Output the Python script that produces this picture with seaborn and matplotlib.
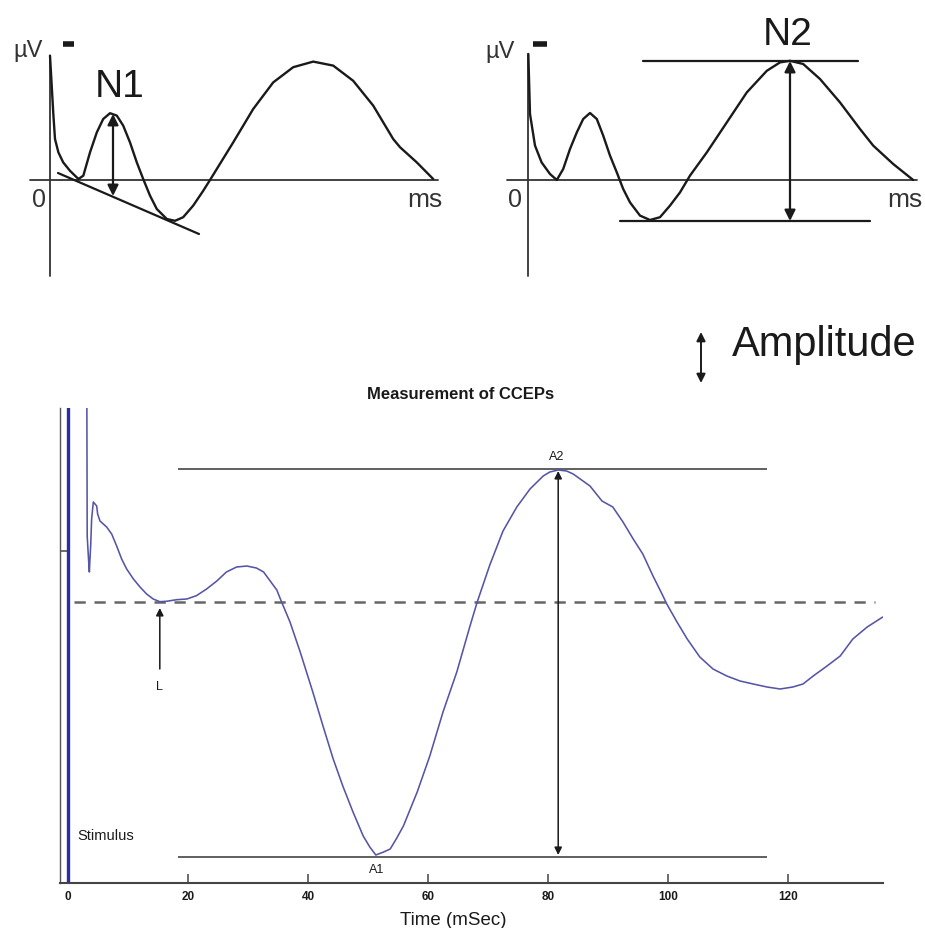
import matplotlib
matplotlib.use("Agg")
import matplotlib.pyplot as plt
import pandas as pd
import seaborn as sns

sns.set_theme(style="white")
plt.rcParams["font.family"] = ["Liberation Sans", "DejaVu Sans"]

# ---- Schematic N1 (top left), arbitrary ms / uV units ----
N1_T = [0, 0.83, 1.25, 2.1, 3.3, 5, 7.1, 8.33, 10, 11.7, 13.3, 15, 16.7, 18.3, 20,
        21.7, 23.3, 25, 26.7, 29.2, 31.25, 33.3, 35.8, 38.3, 40, 45.8, 50.8, 55.8,
        60.8, 65.8, 70.8, 75.8, 80.8, 85.8, 87.5, 91.7, 95.8]
N1_V = [31.1, 16.5, 10.25, 6.9, 4.4, 2.3, 0.25, 1.08, 6.9, 11.9, 15.25, 16.7, 16.1, 13.6, 9.4,
        4.4, 0.25, -3.9, -7.25, -9.75, -10.2, -9.3, -6.4, -2.7, 0, 9.4, 17.75, 24.4,
        28.2, 29.6, 28.6, 24.8, 18.6, 10.25, 8.2, 4.4, 0.25]
N1_TANGENT_T = [2, 37.25]
N1_TANGENT_V = [1.75, -13.5]
N1_ARROW_T = 15.75
N1_ARROW_V = [16.5, -4.0]

# ---- Schematic N2 (top right) ----
N2_T = [0.08, 0.5, 1.75, 3.4, 5.5, 7.2, 8.8, 10.5, 12.2, 13.8, 15.5, 17.2, 18.8, 20.5,
        22.2, 23.8, 25.5, 28, 30.5, 33, 35.5, 38, 40.5, 44.7, 49.7, 54.7, 59.7, 63,
        65.5, 68.8, 73, 78, 83, 86.3, 91.3, 96.3]
N2_V = [31.5, 16.5, 8.6, 4.4, 1.5, 0, 2.75, 7.75, 11.9, 15.25, 16.75, 15.25, 11.1, 6.1,
        1.9, -2.25, -5.6, -8.9, -10, -9.3, -6.4, -3.1, 1.1, 6.9, 14.4, 21.9, 27.3, 29.4,
        29.8, 29, 25.25, 19.4, 12.75, 8.6, 4, 0]
N2_PEAK_V = 29.75
N2_TROUGH_V = -10.25
N2_ARROW_T = 65.5

# ---- Measurement of CCEPs (bottom) ----
CCEP_MS = [3.1, 3.2, 3.4, 3.56, 3.65, 3.78, 3.94, 4.22, 4.78, 4.94, 5.33, 6.44, 7.28,
           8.11, 8.94, 9.78, 10.9, 12.0, 13.1, 14.2, 15.3, 16.4, 18.1, 19.8, 21.4,
           23.1, 24.8, 26.4, 28.1, 29.8, 31.4, 32.6, 33.7, 34.8, 35.6, 37.0, 38.7,
           40.8, 42.5, 44.2, 45.8, 47.5, 49.2, 50.3, 51.3, 52.6, 53.7, 54.8, 55.9,
           58.2, 60.3, 62.5, 64.8, 67.0, 68.2, 70.3, 72.5, 74.8, 77.0, 79.2, 80.3,
           81.7, 83.1, 84.2, 87.0, 89.0, 90.8, 92.5, 94.2, 95.8, 97.5, 99.0, 99.8,
           101.5, 103.2, 105.3, 107.5, 109.8, 112.0, 114.2, 116.5, 118.7, 120.8,
           122.5, 124.2, 126.5, 128.7, 130.8, 133.2, 135.8]
CCEP_UV = [30, 6.6, 4.5, 3.0, 4.2, 5.6, 8.3, 10.0, 9.6, 8.8, 8.1, 7.5, 6.8,
           5.6, 4.3, 3.3, 2.3, 1.5, 0.8, 0.3, 0.03, 0.07, 0.23, 0.3, 0.63,
           1.3, 2.1, 3.0, 3.5, 3.6, 3.4, 3.0, 2.1, 1.2, 0.0, -2.0, -5.0,
           -9.0, -12.4, -15.7, -18.4, -21.0, -23.4, -24.5, -25.3, -25.0, -24.7, -23.6, -22.4,
           -19.0, -15.4, -11.0, -7.0, -2.4, 0.0, 3.7, 7.1, 9.5, 11.3, 12.6, 13.0,
           13.2, 13.1, 12.8, 11.6, 10.1, 9.5, 8.0, 6.3, 4.8, 2.6, 0.8, -0.2,
           -2.0, -3.7, -5.5, -6.7, -7.4, -7.9, -8.2, -8.5, -8.7, -8.5,
           -8.2, -7.4, -6.4, -5.4, -3.7, -2.5, -1.5]
STIMULUS_MS = 0
BASELINE_UV = 0
A2_UV = 13.3
A1_UV = -25.5
A_LINE_MS = [18.3, 116.5]
A2_MS = 81.7
L_MS = 15.3
X_TICKS = [0, 20, 40, 60, 80, 100, 120]

INK = "#1a1a1a"
TRACE = "#5555a8"
STIM = "#2c2ca8"

fig = plt.figure(figsize=(9.25, 9.29), dpi=100)


def schematic_axes(rect, xlim):
    ax = fig.add_axes(rect)
    ax.set_xlim(*xlim)
    ax.set_ylim(-27.25, 45.25)
    ax.axis("off")
    return ax


def dbl_arrow(ax, x, y0, y1, lw=1.6, ms=16, color=INK):
    ax.annotate("", xy=(x, y1), xytext=(x, y0),
                arrowprops=dict(arrowstyle="<|-|>", color=color, lw=lw,
                                mutation_scale=ms, shrinkA=0, shrinkB=0))


# ---------- top left: N1 ----------
ax1 = schematic_axes([0, 1 - 290 / 929, 460 / 925, 290 / 929], (-12.5, 102.5))
ax1.plot([-5, 97], [0, 0], color="#333", lw=1.3)
ax1.plot([0, 0], [31, -24], color="#333", lw=1.3)
sns.lineplot(x=N1_T, y=N1_V, sort=False, estimator=None, color=INK, lw=1.7, ax=ax1)
sns.lineplot(x=N1_TANGENT_T, y=N1_TANGENT_V, sort=False, estimator=None, color=INK, lw=1.6, ax=ax1)
dbl_arrow(ax1, N1_ARROW_T, N1_ARROW_V[0], N1_ARROW_V[1])
ax1.text(17.5, 23.5, "N1", fontsize=28, ha="center", va="center", color=INK)
ax1.text(-1.75, 32.5, "µV", fontsize=17, ha="right", va="center", color="#333")
ax1.plot([3.25, 6], [33.9, 33.9], color=INK, lw=4, solid_capstyle="butt")
ax1.text(-2.75, -4.75, "0", fontsize=18, ha="center", va="center", color="#333")
ax1.text(89.25, -4.75, "ms", fontsize=19, ha="left", va="center", color="#333")

# ---------- top right: N2 ----------
ax2 = schematic_axes([460 / 925, 1 - 290 / 929, 465 / 925, 290 / 929], (-17, 99.25))
ax2.plot([-5.25, 97.25], [0, 0], color="#333", lw=1.3)
ax2.plot([0, 0], [31.5, -24], color="#333", lw=1.3)
sns.lineplot(x=N2_T, y=N2_V, sort=False, estimator=None, color=INK, lw=1.7, ax=ax2)
ax2.plot([28.75, 82.5], [N2_PEAK_V, N2_PEAK_V], color=INK, lw=1.6)
ax2.plot([23, 85.5], [N2_TROUGH_V, N2_TROUGH_V], color=INK, lw=1.6)
dbl_arrow(ax2, N2_ARROW_T, N2_PEAK_V, N2_TROUGH_V)
ax2.text(64.9, 36.5, "N2", fontsize=28, ha="center", va="center", color=INK)
ax2.text(-3.25, 32.25, "µV", fontsize=17, ha="right", va="center", color="#333")
ax2.plot([1.25, 4.75], [34.1, 34.1], color=INK, lw=4, solid_capstyle="butt")
ax2.text(-3.25, -4.75, "0", fontsize=18, ha="center", va="center", color="#333")
ax2.text(89.75, -4.75, "ms", fontsize=19, ha="left", va="center", color="#333")

# ---------- amplitude key ----------
axk = fig.add_axes([580 / 925, 1 - 410 / 929, 345 / 925, 110 / 929])
axk.set_xlim(580, 925)
axk.set_ylim(410, 300)
axk.axis("off")
dbl_arrow(axk, 701, 333, 384, lw=1.4, ms=13)
axk.text(732, 356, "Amplitude", fontsize=30, ha="left", va="baseline", color=INK)

# ---------- bottom: measurement of CCEPs ----------
ax = fig.add_axes([60 / 925, 1 - 884 / 929, 823 / 925, 475 / 929])
df = pd.DataFrame({"ms": CCEP_MS, "uv": CCEP_UV})
ax.axvline(STIMULUS_MS, color=STIM, lw=2.4, zorder=1)
ax.axhline(BASELINE_UV, xmin=(1 + 1.333) / 137.166, xmax=(134.5 + 1.333) / 137.166,
           color="#666", lw=1.8, ls=(0, (4.5, 3.5)))
ax.hlines([A2_UV, A1_UV], A_LINE_MS[0], A_LINE_MS[1], color="#444", lw=1.2)
sns.lineplot(data=df, x="ms", y="uv", sort=False, estimator=None, color=TRACE, lw=1.15, ax=ax)
dbl_arrow(ax, A2_MS, A2_UV - 0.2, A1_UV + 0.2, lw=1.1, ms=11)
ax.annotate("", xy=(L_MS, -0.6), xytext=(L_MS, -6.7),
            arrowprops=dict(arrowstyle="-|>", color=INK, lw=1.1, mutation_scale=11,
                            shrinkA=0, shrinkB=0))
ax.text(L_MS, -8.4, "L", fontsize=9, ha="center", va="center", color=INK)
ax.text(A2_MS - 0.2, 14.6, "A2", fontsize=9, ha="center", va="center", color=INK)
ax.text(51.5, -26.7, "A1", fontsize=9, ha="center", va="center", color=INK)
ax.text(1.5, -23.3, "Stimulus", fontsize=10.5, ha="left", va="center", color=INK)

ax.set_xlim(-1.333, 135.833)
ax.set_ylim(-28.1, 19.4)
ax.set_xticks(X_TICKS)
ax.set_yticks([5.1])
ax.set_yticklabels([""])
ax.tick_params(axis="both", direction="in", length=6.5, width=1.1, color="#444",
               bottom=True, left=True)
ax.tick_params(axis="x", labelsize=8.5, pad=5, labelcolor=INK)
for lab in ax.get_xticklabels():
    lab.set_fontweight("bold")
for side in ("top", "right"):
    ax.spines[side].set_visible(False)
ax.spines["left"].set_color("#555")
ax.spines["left"].set_linewidth(1.0)
ax.spines["bottom"].set_color("#444")
ax.spines["bottom"].set_linewidth(1.5)
ax.set_xlabel("Time (mSec)", fontsize=13.5, color=INK)
ax.set_ylabel("")
ax.xaxis.set_label_coords((453 - 60) / 823, -0.058)
ax.grid(False)

fig.text(461 / 925, 1 - 395 / 929, "Measurement of CCEPs", fontsize=12,
         fontweight="bold", ha="center", va="center", color=INK)

fig.savefig("out.png", dpi=100)
